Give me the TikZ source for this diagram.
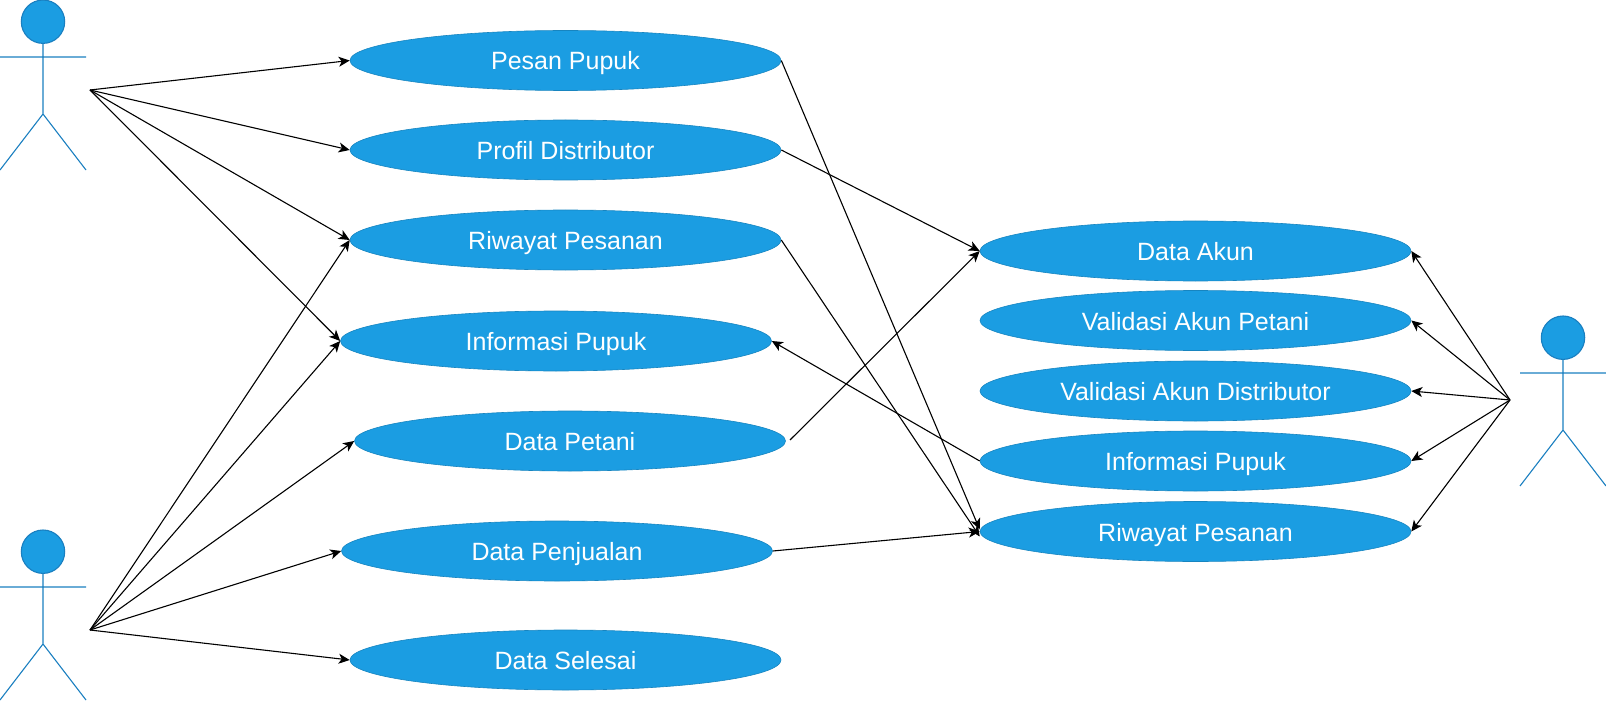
\documentclass[tikz,border=0pt]{standalone}
\usepackage{fontspec}
\setmainfont{Liberation Sans}
\usetikzlibrary{arrows.meta,shapes.geometric}
\definecolor{ucfill}{HTML}{1B9DE2}
\definecolor{ucline}{HTML}{1A7FC0}
\begin{document}
\begin{tikzpicture}[x=1pt, y=-1pt, >={Stealth[length=11pt,width=10pt,inset=3pt]},
  usecase/.style={draw=ucfill!85!black, line width=0.6pt, fill=ucfill, ellipse, inner sep=0pt,
    minimum width=431pt, minimum height=60pt, text=white, text height=19pt, text depth=0pt,
    font=\fontsize{25}{29}\selectfont},
  link/.style={->, black, line width=1.1pt},
  stickman/.pic={
    \draw[ucline, line width=1.1pt, fill=ucfill] (43,21.7) circle [radius=21.7];
    \draw[ucline, line width=1.1pt] (43,43.4) -- (43,114) (0,57) -- (86,57) (0,170) -- (43,114) -- (86,170);
  }]
\useasboundingbox (0,0) rectangle (1606,722);

\pic at (0,0) {stickman};
\pic at (0,530) {stickman};
\pic at (1520,316) {stickman};
\coordinate (huba) at (90,90);
\coordinate (hubb) at (90,630);
\coordinate (hubc) at (1510,400);

\node (pesan) [usecase] at (565.5,60.5) {Pesan Pupuk};
\node (profil) [usecase] at (565.5,150) {Profil Distributor};
\node (riwayat) [usecase] at (565.5,240) {Riwayat Pesanan};
\node (info) [usecase] at (556,341) {Informasi Pupuk};
\node (petani) [usecase] at (570,441) {Data Petani};
\node (jual) [usecase] at (557,551) {Data Penjualan};
\node (selesai) [usecase] at (565.5,660) {Data Selesai};

\node (akun) [usecase] at (1195.5,251) {Data Akun};
\node (valpetani) [usecase] at (1195.5,320.5) {Validasi Akun Petani};
\node (valdist) [usecase] at (1195.5,391) {Validasi Akun Distributor};
\node (infodua) [usecase] at (1195.5,461) {Informasi Pupuk};
\node (riwayatdua) [usecase] at (1195.5,531.5) {Riwayat Pesanan};
\coordinate (petaniend) at (790,440);

\draw[link] (huba) -- (pesan.west);
\draw[link] (huba) -- (profil.west);
\draw[link] (huba) -- (riwayat.west);
\draw[link] (huba) -- (info.west);

\draw[link] (hubb) -- (riwayat.west);
\draw[link] (hubb) -- (info.west);
\draw[link] (hubb) -- (petani.west);
\draw[link] (hubb) -- (jual.west);
\draw[link] (hubb) -- (selesai.west);

\draw[link] (pesan.east) -- ([yshift=2pt]riwayatdua.west);
\draw[link] (profil.east) -- (akun.west);
\draw[link] (riwayat.east) -- ([yshift=-5pt]riwayatdua.west);
\draw[link] (petaniend) -- (akun.west);
\draw[link] (jual.east) -- (riwayatdua.west);
\draw[link] (infodua.west) -- (info.east);

\draw[link] (hubc) -- (akun.east);
\draw[link] (hubc) -- (valpetani.east);
\draw[link] (hubc) -- (valdist.east);
\draw[link] (hubc) -- (infodua.east);
\draw[link] (hubc) -- (riwayatdua.east);
\end{tikzpicture}
\end{document}
